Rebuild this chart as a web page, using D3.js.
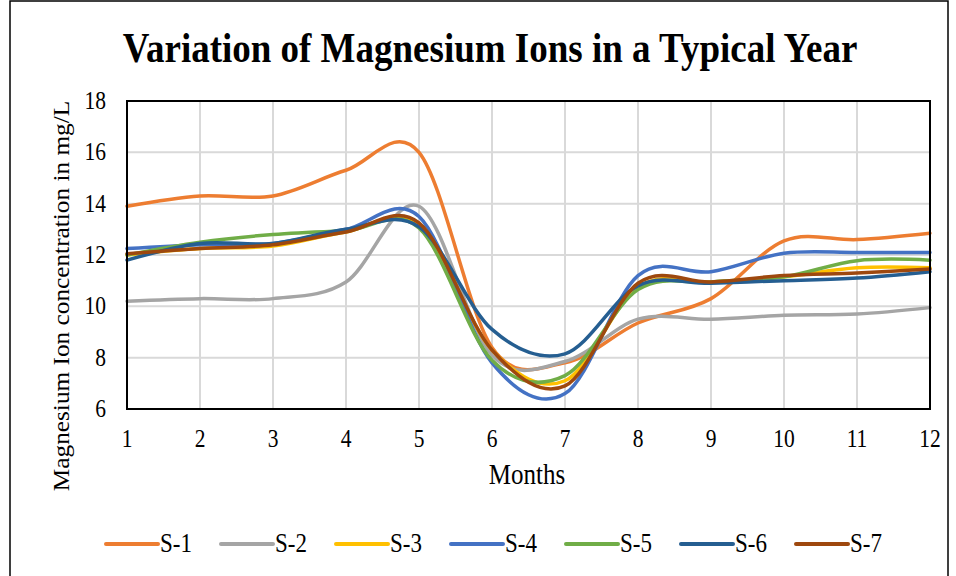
<!DOCTYPE html>
<html>
<head>
<meta charset="utf-8">
<script src="https://cdn.jsdelivr.net/npm/d3@7"></script>
<style>
body { margin: 0; background: #fff; }
text { font-family: "Liberation Serif", "Times New Roman", serif; fill: #000; }
</style>
</head>
<body>
<script>
// data, one value per month
var months = [1, 2, 3, 4, 5, 6, 7, 8, 9, 10, 11, 12];
var yTicks = [6, 8, 10, 12, 14, 16, 18];
var seriesNames = ["S-1", "S-2", "S-3", "S-4", "S-5", "S-6", "S-7"];
var s1 = [13.9, 14.3, 14.3, 15.3, 16.0, 8.4, 7.8, 9.35, 10.3, 12.55, 12.6, 12.85];
var s2 = [10.2, 10.3, 10.3, 10.95, 13.9, 8.1, 7.85, 9.5, 9.5, 9.65, 9.7, 9.95];
var s3 = [12.0, 12.25, 12.35, 12.9, 13.2, 8.3, 7.1, 10.75, 10.95, 11.15, 11.5, 11.5];
var s4 = [12.25, 12.4, 12.45, 13.0, 13.5, 7.8, 6.6, 11.2, 11.35, 12.07, 12.1, 12.1];
var s5 = [12.0, 12.5, 12.8, 12.95, 13.05, 7.9, 7.3, 10.65, 10.95, 11.15, 11.78, 11.8];
var s6 = [11.8, 12.45, 12.45, 13.0, 13.1, 9.1, 8.15, 10.8, 10.9, 11.0, 11.1, 11.35];
var s7 = [12.05, 12.25, 12.4, 12.9, 13.25, 8.3, 6.9, 10.9, 10.95, 11.2, 11.3, 11.45];
var colors = ["#ED7D31", "#A5A5A5", "#FFC000", "#4472C4", "#70AD47", "#255E91", "#9E480E"];

var allSeries = [s1, s2, s3, s4, s5, s6, s7];

var w = 956,
		h = 576;
var svg = d3.select('body').append('svg').attr("width", w).attr("height", h);

// the source picture is stretched vertically, text too
var stretch = 1.15;
function label(g, px, py, size, str, anchor) {
	return g.append("text")
		.attr("transform", "translate(" + px + "," + py + ") scale(1," + stretch + ")")
		.attr("text-anchor", anchor || "middle")
		.style("font-size", size + "px")
		.text(str);
}

// outer chart border
svg.append("rect")
	.attr("x", 10).attr("y", 1)
	.attr("width", 938).attr("height", 600)
	.attr("fill", "none").attr("stroke", "#000").attr("stroke-width", 1.5);

var plot = { left: 127, right: 930, top: 101, bottom: 409 };

var x = d3.scaleLinear().domain([1, 12]).range([plot.left, plot.right]);
var y = d3.scaleLinear().domain([6, 18]).range([plot.bottom, plot.top]);

// gridlines
var grid = svg.append("g");
grid.selectAll("line.v").data(months).enter().append("line")
	.attr("x1", function(d) { return x(d); }).attr("x2", function(d) { return x(d); })
	.attr("y1", plot.top).attr("y2", plot.bottom)
	.attr("stroke", "#d9d9d9").attr("stroke-width", 2);
grid.selectAll("line.h").data(yTicks).enter().append("line")
	.attr("x1", plot.left).attr("x2", plot.right)
	.attr("y1", function(d) { return y(d); }).attr("y2", function(d) { return y(d); })
	.attr("stroke", "#d9d9d9").attr("stroke-width", 2);

// tick labels
var ticks = svg.append("g");
months.forEach(function(m) {
	label(ticks, x(m), 447, 21.5, m);
});
yTicks.forEach(function(v) {
	label(ticks, 106, y(v) + 8, 21.5, v, "end");
});

// series lines, Excel style smoothing
var line = d3.line()
	.x(function(d, i) { return x(months[i]); })
	.y(function(d) { return y(d); })
	.curve(d3.curveCatmullRom.alpha(0));

svg.append("g").selectAll("path").data(allSeries).enter().append("path")
	.attr("d", line)
	.attr("fill", "none")
	.attr("stroke", function(d, i) { return colors[i]; })
	.attr("stroke-width", 3.5)
	.attr("stroke-linecap", "round");

// plot frame
svg.append("rect")
	.attr("x", plot.left).attr("y", plot.top)
	.attr("width", plot.right - plot.left).attr("height", plot.bottom - plot.top)
	.attr("fill", "none").attr("stroke", "#000").attr("stroke-width", 2);

// titles
label(svg, 490, 62, 37, "Variation of Magnesium Ions in a Typical Year").style("font-weight", "bold");
label(svg, 527, 484, 25, "Months");

svg.append("text")
	.attr("transform", "translate(69,296) rotate(-90) scale(1.1,1)")
	.attr("text-anchor", "middle")
	.style("font-size", "23px")
	.text("Magnesium Ion concentration in mg/L");

// legend
var legend = svg.append("g").selectAll("g").data(seriesNames).enter().append("g")
	.attr("transform", function(d, i) { return "translate(" + (106 + i * 115) + ",544)"; });
legend.append("line")
	.attr("x1", 0).attr("x2", 52)
	.attr("stroke", function(d, i) { return colors[i]; })
	.attr("stroke-width", 4).attr("stroke-linecap", "round");
legend.each(function(d) {
	label(d3.select(this), 54, 8, 23, d, "start");
});
</script>
</body>
</html>
